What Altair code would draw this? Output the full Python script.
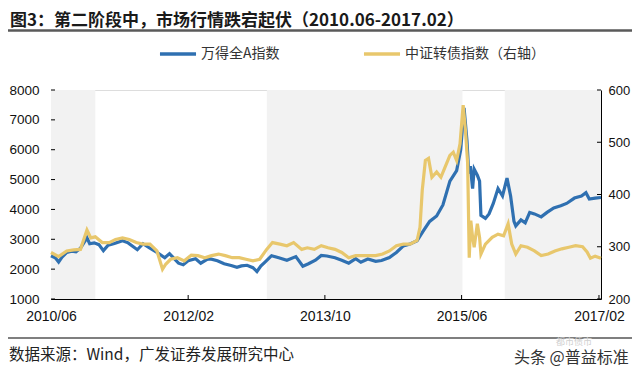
import altair as alt
import pandas as pd

# ---------------- data ----------------
blue_dates = [
    "2010-06-01", "2010-06-20", "2010-07-05", "2010-07-20", "2010-08-10", "2010-09-01",
    "2010-09-20", "2010-10-10", "2010-11-08", "2010-11-20", "2010-12-10", "2010-12-31",
    "2011-01-20", "2011-02-10", "2011-03-10", "2011-04-15", "2011-05-10", "2011-06-20",
    "2011-07-15", "2011-08-15", "2011-09-15", "2011-10-20", "2011-11-10", "2011-12-20",
    "2012-01-10", "2012-02-01", "2012-03-05", "2012-03-28", "2012-04-25", "2012-05-10",
    "2012-06-10", "2012-07-10", "2012-08-10", "2012-09-05", "2012-09-25", "2012-10-20",
    "2012-11-15", "2012-12-03", "2012-12-20", "2013-01-10", "2013-02-06", "2013-03-10",
    "2013-04-15", "2013-05-25", "2013-06-25", "2013-07-20", "2013-08-20", "2013-09-15",
    "2013-10-10", "2013-11-15", "2013-12-15", "2014-01-15", "2014-02-15", "2014-03-10",
    "2014-04-10", "2014-05-15", "2014-06-10", "2014-07-15", "2014-08-15", "2014-09-15",
    "2014-10-15", "2014-11-15", "2014-12-10", "2015-01-10", "2015-02-10", "2015-03-10",
    "2015-04-10", "2015-05-10", "2015-05-28", "2015-06-12", "2015-06-25", "2015-07-03",
    "2015-07-10", "2015-07-20", "2015-07-27", "2015-08-10", "2015-08-20", "2015-08-26",
    "2015-09-15", "2015-10-01", "2015-10-20", "2015-11-10", "2015-11-30", "2015-12-20",
    "2016-01-05", "2016-01-20", "2016-01-28", "2016-02-20", "2016-03-10", "2016-03-30",
    "2016-04-20", "2016-05-20", "2016-06-15", "2016-07-15", "2016-08-15", "2016-09-10",
    "2016-10-15", "2016-11-15", "2016-12-05", "2016-12-20", "2017-01-15", "2017-02-10",
]
blue_vals = [
    2450, 2380, 2240, 2400, 2560, 2600,
    2580, 2700, 3050, 2850, 2880, 2820,
    2620, 2800, 2860, 2950, 2880, 2650,
    2850, 2700, 2560, 2380, 2520, 2200,
    2150, 2280, 2350, 2200, 2330, 2340,
    2280, 2180, 2120, 2060, 2110, 2130,
    2050, 1920, 2100, 2250, 2450, 2380,
    2300, 2420, 2100, 2180, 2300, 2460,
    2440, 2380, 2300, 2200, 2350, 2230,
    2340, 2260, 2290, 2390, 2560, 2780,
    2840, 2950, 3250, 3600, 3780, 4150,
    4950, 5300, 6000, 7400, 6300, 5200,
    5450, 4700, 5350, 5150, 4950, 3800,
    3700, 3850, 4200, 4700, 4450, 5050,
    4450, 3600, 3450, 3650, 3550, 3900,
    3850, 3750, 3900, 4050, 4120, 4200,
    4380, 4450, 4560, 4350, 4380, 4400,
]

gold_dates = [
    "2010-06-01", "2010-07-05", "2010-08-10", "2010-09-10", "2010-10-10", "2010-11-08",
    "2010-11-25", "2010-12-15", "2011-01-15", "2011-02-15", "2011-03-15", "2011-04-15",
    "2011-05-15", "2011-06-15", "2011-07-15", "2011-08-15", "2011-09-15", "2011-10-10",
    "2011-10-25", "2011-11-15", "2011-12-15", "2012-01-15", "2012-02-15", "2012-03-15",
    "2012-04-15", "2012-05-15", "2012-06-15", "2012-07-15", "2012-08-15", "2012-09-15",
    "2012-10-15", "2012-11-15", "2012-12-15", "2013-01-15", "2013-02-10", "2013-03-15",
    "2013-04-15", "2013-05-15", "2013-06-20", "2013-07-15", "2013-08-15", "2013-09-15",
    "2013-10-15", "2013-11-15", "2013-12-15", "2014-01-15", "2014-02-15", "2014-03-15",
    "2014-04-15", "2014-05-15", "2014-06-15", "2014-07-15", "2014-08-15", "2014-09-15",
    "2014-10-15", "2014-11-15", "2014-11-28", "2014-12-08", "2014-12-22", "2015-01-05",
    "2015-01-20", "2015-02-10", "2015-03-01", "2015-03-20", "2015-04-10", "2015-04-25",
    "2015-05-10", "2015-05-25", "2015-06-08", "2015-06-18", "2015-06-28", "2015-07-05",
    "2015-07-12", "2015-07-20", "2015-07-27", "2015-08-10", "2015-08-20", "2015-08-26",
    "2015-09-15", "2015-10-15", "2015-11-10", "2015-12-05", "2015-12-25", "2016-01-10",
    "2016-01-28", "2016-02-20", "2016-03-20", "2016-04-20", "2016-05-20", "2016-06-20",
    "2016-07-20", "2016-08-20", "2016-09-20", "2016-10-20", "2016-11-20", "2016-12-10",
    "2016-12-25", "2017-01-15", "2017-02-10",
]
gold_vals = [
    289, 281, 292, 294, 295, 332,
    317, 319, 308, 308, 314, 317,
    314, 308, 305, 305, 292, 257,
    267, 276, 279, 273, 284, 283,
    279, 283, 286, 283, 279, 279,
    276, 273, 276, 295, 308, 305,
    302, 308, 295, 298, 295, 302,
    298, 295, 289, 279, 283, 283,
    283, 283, 286, 292, 302, 305,
    305, 312, 337, 408, 465, 469,
    433, 443, 433, 453, 475, 481,
    465, 497, 571, 523, 459, 279,
    350, 318, 299, 344, 318, 286,
    305, 318, 324, 321, 344, 305,
    286, 302, 299, 292, 283, 286,
    292, 296, 299, 302, 300, 290,
    278, 282, 278,
]

series_names = ["万得全A指数", "中证转债指数（右轴）"]
series_colors = ["#2f70b1", "#e8c76c"]

shade_start = ["2010-06-01", "2013-01-16", "2015-12-10"]
shade_end = ["2010-12-15", "2015-06-05", "2017-02-10"]

x_tick_dates = ["2010-06-01", "2012-02-01", "2013-10-01", "2015-06-01", "2017-02-01"]
inner_x_ticks = ["2012-02-01", "2013-10-01", "2015-06-01", "2017-02-01"]
left_ticks = [1000, 2000, 3000, 4000, 5000, 6000, 7000, 8000]
right_ticks = [200, 300, 400, 500, 600]

title_text = "图3：第二阶段中，市场行情跌宕起伏（2010.06-2017.02）"
source_text = "数据来源：Wind，广发证券发展研究中心"
watermark_text = "头条 @普益标准"
watermark_faint = "都市债市"

# ---------------- layout ----------------
W, H = 550, 209
PAD_L, PAD_T, PAD_R, PAD_B = 43, 82, 31, 69
NUM_FONT = "Liberation Sans"
CJK_FONT = "Noto Sans CJK SC"


def dt(s):
    y, m, d = [int(p) for p in s.split("-")]
    return alt.DateTime(year=y, month=m, date=d, utc=True)


x_scale = alt.Scale(type="utc", domain=[dt("2010-06-01"), dt("2017-02-10")])
x_axis = alt.Axis(
    values=[dt(s) for s in x_tick_dates],
    labelExpr="utcFormat(datum.value, '%Y/%m')",
    labelAngle=0, title=None, grid=False, ticks=False, domainColor="#000",
    domainWidth=1, labelFontSize=14, labelFont=NUM_FONT, labelColor="#111",
    labelPadding=10, labelOverlap=False, labelFlush=False,
)


def xenc(field):
    return alt.X(f"{field}:T", scale=x_scale, axis=x_axis)


left_scale = alt.Scale(domain=[1000, 8000], nice=False, zero=False)
left_axis = alt.Axis(
    values=left_ticks, format="d", orient="left", title=None, grid=False, ticks=False,
    domainColor="#000", domainWidth=1, labelFontSize=13.5, labelFont=NUM_FONT,
    labelColor="#111", labelPadding=12,
)
right_scale = alt.Scale(domain=[200, 600], nice=False, zero=False)
right_axis = alt.Axis(
    values=right_ticks, format="d", orient="right", title=None, grid=False, ticks=False,
    domainColor="#000", domainWidth=1, labelFontSize=13, labelFont=NUM_FONT,
    labelColor="#111", labelPadding=7,
)

color_enc = alt.Color(
    "s:N",
    scale=alt.Scale(domain=series_names, range=series_colors),
    legend=alt.Legend(
        title=None, orient="none", legendX=107, legendY=-56, direction="horizontal",
        symbolType="stroke", symbolStrokeWidth=3.5, symbolSize=1300,
        labelFontSize=14, labelFont=CJK_FONT, labelColor="#333", labelOffset=3,
        columnPadding=76, padding=0, symbolOffset=0,
    ),
)

blue_df = pd.DataFrame({"date": blue_dates, "v": blue_vals, "s": series_names[0]})
gold_df = pd.DataFrame({"date": gold_dates, "v": gold_vals, "s": series_names[1]})
shade_df = pd.DataFrame({"a": shade_start, "b": shade_end})
xt_df = pd.DataFrame({"date": inner_x_ticks})
lt_df = pd.DataFrame({"v": left_ticks})
rt_df = pd.DataFrame({"v": right_ticks})

shade = alt.Chart(shade_df).mark_rect(color="#f2f2f2").encode(
    x=xenc("a"), x2="b:T", y=alt.value(0), y2=alt.value(H)
)

blue_line = alt.Chart(blue_df).mark_line(strokeWidth=3.2).encode(
    x=xenc("date"), y=alt.Y("v:Q", scale=left_scale, axis=left_axis), color=color_enc
)
gold_line = alt.Chart(gold_df).mark_line(strokeWidth=3.2).encode(
    x=xenc("date"), y=alt.Y("v:Q", scale=right_scale, axis=right_axis), color=color_enc
)

bottom_ticks = alt.Chart(xt_df).mark_rule(color="#000", strokeWidth=1).encode(
    x=xenc("date"), y=alt.value(H), y2=alt.value(H - 4)
)
left_tick_marks = alt.Chart(lt_df).mark_rule(color="#000", strokeWidth=1).encode(
    y=alt.Y("v:Q", scale=left_scale, axis=left_axis), x=alt.value(0), x2=alt.value(4)
)
right_tick_marks = alt.Chart(rt_df).mark_rule(color="#000", strokeWidth=1).encode(
    y=alt.Y("v:Q", scale=right_scale, axis=right_axis), x=alt.value(W - 4), x2=alt.value(W)
)


def text_mark(txt, x, y, size, color="#111", weight="normal", font=CJK_FONT, align="left"):
    return alt.Chart(pd.DataFrame({"t": [txt]})).mark_text(
        align=align, baseline="middle", fontSize=size, fontWeight=weight,
        font=font, color=color,
    ).encode(x=alt.value(x), y=alt.value(y), text="t:N")


def hline(y, x1, x2, color, width):
    return alt.Chart(pd.DataFrame({"k": [0]})).mark_rule(color=color, strokeWidth=width).encode(
        x=alt.value(x1), x2=alt.value(x2), y=alt.value(y)
    )


title = text_mark(title_text, -41, -69.5, 17, color="#1a1a1a", weight="bold")
head_rule = hline(-59.5, -43, W + PAD_R, "#5a5a5a", 2.5)
foot_rule = hline(248, -43, W + PAD_R, "#555555", 1.5)
source = text_mark(source_text, -42, 265, 15.5, color="#222")
faint = text_mark(watermark_faint, 505, 252, 9, color="#d0d0d0")
wmark = text_mark(watermark_text, 463, 268, 16, color="#333")

left_layer = alt.layer(
    shade, blue_line, left_tick_marks, bottom_ticks,
    title, head_rule, foot_rule, source, faint, wmark,
)
right_layer = alt.layer(gold_line, right_tick_marks)

chart = alt.layer(left_layer, right_layer).resolve_scale(y="independent").properties(
    width=W, height=H,
    padding={"left": PAD_L, "top": PAD_T, "right": PAD_R, "bottom": PAD_B},
    autosize=alt.AutoSizeParams(type="none"),
).configure_view(stroke=None).configure(background="white")

chart.save("out.html", embed_options={"renderer": "svg", "actions": False})
